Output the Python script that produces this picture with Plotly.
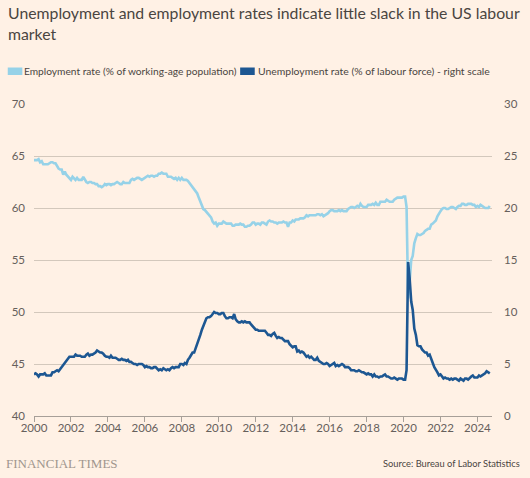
import pandas as pd
import plotly.graph_objects as go

# Monthly data, Jan 2000 - Sep 2024
emp_rate = [
    64.6, 64.6, 64.6, 64.7, 64.4, 64.5, 64.2, 64.2, 64.2, 64.2, 64.3, 64.4,
    64.4, 64.3, 64.3, 64.0, 63.8, 63.7, 63.7, 63.2, 63.5, 63.2, 63.0, 62.9,
    62.7, 63.0, 62.8, 62.7, 62.9, 62.7, 62.7, 62.7, 63.0, 62.7, 62.5, 62.4,
    62.5, 62.5, 62.4, 62.4, 62.3, 62.3, 62.1, 62.1, 62.0, 62.1, 62.3, 62.2,
    62.3, 62.3, 62.2, 62.3, 62.3, 62.4, 62.5, 62.4, 62.3, 62.3, 62.5, 62.4,
    62.4, 62.4, 62.4, 62.7, 62.8, 62.7, 62.8, 62.9, 62.9, 62.8, 62.7, 62.8,
    62.9, 63.0, 63.1, 63.0, 63.1, 63.1, 63.0, 63.1, 63.1, 63.3, 63.3, 63.4,
    63.3, 63.3, 63.3, 63.0, 63.0, 63.0, 62.9, 62.8, 62.9, 62.7, 62.9, 62.7,
    62.9, 62.7, 62.7, 62.7, 62.6, 62.4, 62.3, 62.0, 61.9, 61.7, 61.4, 61.0,
    60.6, 60.3, 59.9, 59.8, 59.6, 59.4, 59.3, 59.1, 58.7, 58.5, 58.6, 58.3,
    58.5, 58.5, 58.5, 58.7, 58.6, 58.5, 58.5, 58.5, 58.5, 58.3, 58.3, 58.4,
    58.4, 58.4, 58.5, 58.4, 58.4, 58.2, 58.2, 58.3, 58.3, 58.4, 58.6, 58.6,
    58.4, 58.5, 58.5, 58.4, 58.6, 58.6, 58.5, 58.4, 58.7, 58.8, 58.7, 58.7,
    58.6, 58.6, 58.5, 58.6, 58.6, 58.6, 58.7, 58.6, 58.6, 58.2, 58.6, 58.6,
    58.8, 58.7, 58.9, 58.9, 58.9, 59.0, 59.0, 59.0, 59.1, 59.3, 59.2, 59.3,
    59.3, 59.3, 59.3, 59.3, 59.4, 59.4, 59.3, 59.4, 59.2, 59.3, 59.4, 59.5,
    59.7, 59.8, 59.8, 59.7, 59.7, 59.7, 59.8, 59.7, 59.8, 59.7, 59.7, 59.7,
    59.9, 60.0, 60.1, 60.1, 60.0, 60.1, 60.2, 60.1, 60.4, 60.2, 60.1, 60.1,
    60.1, 60.3, 60.3, 60.3, 60.4, 60.3, 60.5, 60.3, 60.3, 60.6, 60.6, 60.6,
    60.6, 60.8, 60.7, 60.6, 60.6, 60.6, 60.8, 60.9, 61.0, 61.0, 61.0, 61.0,
    61.1, 61.1, 60.1, 51.3, 52.9, 55.0, 55.4, 56.6, 57.1, 57.5, 57.4, 57.4,
    57.5, 57.6, 57.8, 57.9, 58.0, 58.0, 58.4, 58.5, 58.7, 58.8, 59.2, 59.5,
    59.7, 59.9, 60.0, 60.0, 59.9, 59.9, 60.0, 60.1, 60.1, 60.0, 59.9, 60.1,
    60.2, 60.2, 60.4, 60.4, 60.3, 60.3, 60.4, 60.4, 60.4, 60.3, 60.3, 60.1,
    60.2, 60.1, 60.3, 60.2, 60.1, 60.0, 60.0, 60.0, 60.2,
]

unemp_rate = [
    4.0, 4.1, 4.0, 3.8, 4.0, 4.0, 4.0, 4.1, 3.9, 3.9, 3.9, 3.9,
    4.2, 4.2, 4.3, 4.4, 4.3, 4.5, 4.6, 4.9, 5.0, 5.3, 5.5, 5.7,
    5.7, 5.7, 5.7, 5.9, 5.8, 5.8, 5.8, 5.7, 5.7, 5.7, 5.9, 6.0,
    5.8, 5.9, 5.9, 6.0, 6.1, 6.3, 6.2, 6.1, 6.1, 6.0, 5.8, 5.7,
    5.7, 5.6, 5.8, 5.6, 5.6, 5.6, 5.5, 5.4, 5.4, 5.5, 5.4, 5.4,
    5.3, 5.4, 5.2, 5.2, 5.1, 5.0, 5.0, 4.9, 5.0, 5.0, 5.0, 4.9,
    4.7, 4.8, 4.7, 4.7, 4.6, 4.6, 4.7, 4.7, 4.5, 4.4, 4.5, 4.4,
    4.6, 4.5, 4.4, 4.5, 4.4, 4.6, 4.7, 4.6, 4.7, 4.7, 4.7, 5.0,
    5.0, 4.9, 5.1, 5.0, 5.4, 5.6, 5.8, 6.1, 6.1, 6.5, 6.8, 7.3,
    7.8, 8.3, 8.7, 9.0, 9.4, 9.5, 9.5, 9.6, 9.8, 10.0, 9.9, 9.9,
    9.8, 9.8, 9.9, 9.9, 9.6, 9.4, 9.4, 9.5, 9.5, 9.4, 9.8, 9.3,
    9.1, 9.0, 9.0, 9.1, 9.0, 9.1, 9.0, 9.0, 9.0, 8.8, 8.6, 8.5,
    8.3, 8.3, 8.2, 8.2, 8.2, 8.2, 8.2, 8.0, 7.8, 7.8, 7.7, 7.9,
    8.0, 7.7, 7.5, 7.6, 7.5, 7.5, 7.3, 7.2, 7.2, 7.2, 6.9, 6.7,
    6.6, 6.7, 6.7, 6.2, 6.3, 6.1, 6.2, 6.1, 5.9, 5.7, 5.8, 5.6,
    5.7, 5.5, 5.4, 5.4, 5.6, 5.3, 5.2, 5.1, 5.0, 5.0, 5.1, 5.0,
    4.8, 4.9, 5.0, 5.1, 4.8, 4.9, 4.8, 4.9, 5.0, 4.9, 4.7, 4.7,
    4.7, 4.6, 4.4, 4.4, 4.4, 4.3, 4.3, 4.4, 4.3, 4.2, 4.2, 4.1,
    4.0, 4.1, 4.0, 4.0, 3.8, 4.0, 3.8, 3.8, 3.7, 3.8, 3.8, 3.9,
    4.0, 3.8, 3.8, 3.7, 3.6, 3.6, 3.7, 3.6, 3.5, 3.6, 3.6, 3.6,
    3.5, 3.5, 4.4, 14.8, 13.2, 11.0, 10.2, 8.4, 7.8, 6.8, 6.7, 6.7,
    6.4, 6.2, 6.1, 6.1, 5.8, 5.9, 5.4, 5.1, 4.7, 4.5, 4.2, 3.9,
    4.0, 3.8, 3.6, 3.7, 3.6, 3.6, 3.5, 3.6, 3.5, 3.6, 3.6, 3.5,
    3.4, 3.6, 3.5, 3.4, 3.6, 3.6, 3.5, 3.7, 3.8, 3.9, 3.7, 3.7,
    3.7, 3.9, 3.8, 3.9, 4.0, 4.1, 4.3, 4.2, 4.1,
]

dates = pd.date_range("2000-01-01", periods=len(emp_rate), freq="MS")

left_ticks = [40, 45, 50, 55, 60, 65, 70]
right_ticks = [0, 5, 10, 15, 20, 25, 30]
x_tick_years = [str(y) for y in range(2000, 2025, 2)]

title_text = "Unemployment and employment rates indicate little slack in the US labour<br>market"
legend_labels = ["Employment rate (% of working-age population)",
                 "Unemployment rate (% of labour force) - right scale"]
source_text = "Source: Bureau of Labor Statistics"

LIGHT = "#96D2E8"
DARK = "#1D5792"
BG = "#FFF1E5"
GRID = "#D3C8BC"
TEXT = "#4A4541"
TICK = "#66605C"
FONT = "Lato"

W, H = 530, 478
ML, MR, MT, MB = 29, 30, 104, 62
PW, PH = W - ML - MR, H - MT - MB


def px(x):
    return (x - ML) / PW


def py(y):
    return (H - MB - y) / PH


fig = go.Figure()
fig.add_trace(go.Scatter(x=dates, y=emp_rate, mode="lines", name=legend_labels[0],
                         line=dict(color=LIGHT, width=2.6), yaxis="y", showlegend=False))
fig.add_trace(go.Scatter(x=dates, y=unemp_rate, mode="lines", name=legend_labels[1],
                         line=dict(color=DARK, width=2.6), yaxis="y2", showlegend=False))

fig.update_layout(
    width=W, height=H,
    margin=dict(l=ML, r=MR, t=MT, b=MB, pad=0),
    paper_bgcolor=BG, plot_bgcolor=BG,
    font=dict(family=FONT, color=TICK, size=11),
    xaxis=dict(
        type="date",
        range=["2000-01-01", "2024-10-15"],
        tickvals=[pd.Timestamp(f"{y}-01-01") for y in x_tick_years],
        ticktext=x_tick_years,
        showgrid=False, zeroline=False,
        showline=True, linecolor="#A79F98", linewidth=1,
        ticks="outside", ticklen=5, tickcolor="#A79F98",
        ticklabelstandoff=-4,
        tickfont=dict(size=11.5, color=TICK),
    ),
    yaxis=dict(
        range=[40, 70], tickvals=left_ticks,
        showgrid=True, gridcolor=GRID, gridwidth=1, zeroline=False,
        ticks="", ticklabelstandoff=8,
        tickfont=dict(size=11.5, color=TICK),
    ),
    yaxis2=dict(
        range=[0, 30], tickvals=right_ticks, overlaying="y", side="right",
        showgrid=False, zeroline=False, ticks="", ticklabelstandoff=11,
        tickfont=dict(size=11.5, color=TICK),
    ),
    showlegend=False,
)

anns = [
    dict(text=title_text, x=px(0), y=py(1), xanchor="left", yanchor="top",
         align="left", font=dict(size=15.8, color=TEXT, family=FONT)),
    dict(text=legend_labels[0], x=px(17), y=py(71), xanchor="left", yanchor="middle",
         font=dict(size=10.2, color=TEXT, family=FONT)),
    dict(text=legend_labels[1], x=px(257), y=py(71), xanchor="left", yanchor="middle",
         font=dict(size=10.4, color=TEXT, family=FONT)),
    dict(text="FINANCIAL TIMES", x=px(-2), y=py(463), xanchor="left", yanchor="middle",
         font=dict(size=13, color="#A0968E", family="Liberation Serif")),
    dict(text=source_text, x=px(531), y=py(463), xanchor="right", yanchor="middle",
         font=dict(size=9.3, color=TEXT, family=FONT)),
]
for a in anns:
    a.update(xref="paper", yref="paper", showarrow=False)
fig.update_layout(annotations=anns)

fig.add_shape(type="rect", xref="paper", yref="paper",
              x0=px(2), x1=px(17), y0=py(75), y1=py(67.5),
              fillcolor=LIGHT, line=dict(width=0))
fig.add_shape(type="rect", xref="paper", yref="paper",
              x0=px(241), x1=px(256), y0=py(75), y1=py(67.5),
              fillcolor=DARK, line=dict(width=0))

fig.write_html("out.html", config={"displayModeBar": False},
               post_script="document.body.style.margin='0';")
